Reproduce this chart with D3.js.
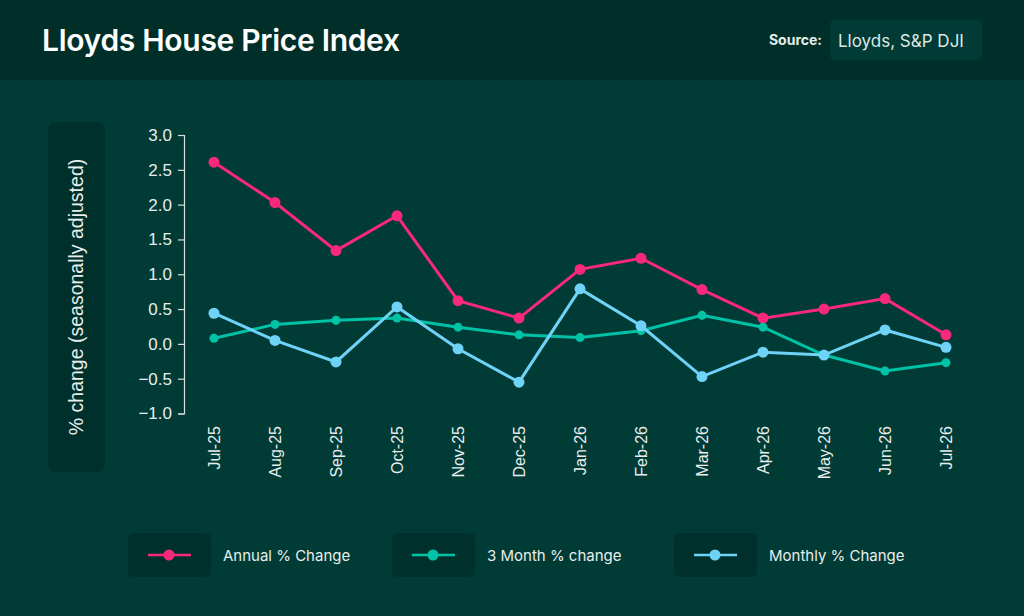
<!DOCTYPE html>
<html lang="en">
<head>
    <meta charset="UTF-8">
    <title>Lloyds House Price Index</title>
    <style>
        html, body { margin: 0; padding: 0; background: #003b36; }
        svg { display: block; }
    </style>
</head>
<body>
    <svg id="chart" width="1024" height="616"></svg>

    <script src="https://cdn.jsdelivr.net/npm/d3@7/dist/d3.min.js"></script>
    <script>
        // data
        var months = ["Jul-25", "Aug-25", "Sep-25", "Oct-25", "Nov-25", "Dec-25", "Jan-26",
            "Feb-26", "Mar-26", "Apr-26", "May-26", "Jun-26", "Jul-26"];
        var annualChange = [2.61, 2.03, 1.34, 1.84, 0.62, 0.37, 1.07, 1.23, 0.78, 0.37, 0.50, 0.65, 0.13];
        var threeMonthChange = [0.08, 0.28, 0.34, 0.37, 0.24, 0.13, 0.09, 0.19, 0.41, 0.24, -0.16, -0.39, -0.27];
        var monthlyChange = [0.44, 0.05, -0.26, 0.53, -0.07, -0.55, 0.79, 0.26, -0.47, -0.12, -0.16, 0.20, -0.05];
        var yTicks = [-1.0, -0.5, 0.0, 0.5, 1.0, 1.5, 2.0, 2.5, 3.0];

        var seriesNames = ["Annual % Change", "3 Month % change", "Monthly % Change"];
        var seriesColors = ["#f8287b", "#00c2a6", "#6fd3f7"];

        var series = [annualChange, threeMonthChange, monthlyChange].map(function (vals, i) {
            return { name: seriesNames[i], color: seriesColors[i], values: vals };
        });

        var svg = d3.select("#chart");

        // header band
        svg.append("rect")
            .attr("x", 0).attr("y", 0)
            .attr("width", 1024).attr("height", 80)
            .attr("fill", "#002f2a");

        svg.append("text")
            .attr("x", 42).attr("y", 51)
            .attr("fill", "#ffffff")
            .style("font-family", "Inter, 'Liberation Sans', sans-serif")
            .style("font-size", "30px")
            .style("font-weight", 600)
            .style("letter-spacing", "-0.3px")
            .text("Lloyds House Price Index");

        svg.append("text")
            .attr("x", 822).attr("y", 45)
            .attr("text-anchor", "end")
            .attr("fill", "#e8eeec")
            .style("font-family", "Inter, 'Liberation Sans', sans-serif")
            .style("font-size", "14px")
            .style("font-weight", 700)
            .text("Source:");

        svg.append("rect")
            .attr("x", 830).attr("y", 20)
            .attr("width", 152).attr("height", 40)
            .attr("rx", 5)
            .attr("fill", "#003b36");

        svg.append("text")
            .attr("x", 838).attr("y", 47)
            .attr("fill", "#dfe7e5")
            .style("font-family", "Inter, 'Liberation Sans', sans-serif")
            .style("font-size", "17px")
            .text("Lloyds, S&P DJI");

        // y label box
        svg.append("rect")
            .attr("x", 48).attr("y", 122)
            .attr("width", 57).attr("height", 350)
            .attr("rx", 8)
            .attr("fill", "#00302b");

        svg.append("text")
            .attr("transform", "translate(83,297) rotate(-90)")
            .attr("text-anchor", "middle")
            .attr("fill", "#e8eeec")
            .style("font-family", "'Liberation Sans', Arial, sans-serif")
            .style("font-size", "19.5px")
            .text("% change (seasonally adjusted)");

        // scales
        var x = d3.scalePoint()
            .domain(months)
            .range([214, 946]);

        var y = d3.scaleLinear()
            .domain([-1, 3])
            .range([413.5, 135]);

        var yAxis = svg.append("g")
            .attr("transform", "translate(184,0)")
            .call(d3.axisLeft(y).tickValues(yTicks).tickFormat(d3.format(".1f")).tickSize(6).tickPadding(6));

        yAxis.selectAll("path, line").attr("stroke", "#d9dfdd").attr("stroke-width", 1.2);
        yAxis.selectAll("text")
            .attr("fill", "#e8eeec")
            .style("font-family", "'Liberation Sans', Arial, sans-serif")
            .style("font-size", "17px");

        var xAxis = svg.append("g")
            .attr("transform", "translate(0,418)")
            .call(d3.axisBottom(x).tickSize(0).tickPadding(0));

        xAxis.select(".domain").remove();
        xAxis.selectAll("text")
            .attr("fill", "#e8eeec")
            .attr("transform", "rotate(-90)")
            .attr("text-anchor", "end")
            .attr("dy", "0.35em")
            .attr("x", -8)
            .attr("y", 0)
            .style("font-family", "'Liberation Sans', Arial, sans-serif")
            .style("font-size", "16px");

        // lines
        var line = d3.line()
            .x(function (d, i) { return x(months[i]); })
            .y(function (d) { return y(d); });

        var groups = svg.selectAll(".series")
            .data(series)
            .enter().append("g")
            .attr("class", "series");

        groups.append("path")
            .attr("d", function (d) { return line(d.values); })
            .attr("fill", "none")
            .attr("stroke", function (d) { return d.color; })
            .attr("stroke-width", 3);

        groups.each(function (s) {
            d3.select(this).selectAll("circle")
                .data(s.values)
                .enter().append("circle")
                .attr("cx", function (d, i) { return x(months[i]); })
                .attr("cy", function (d) { return y(d); })
                .attr("r", s.name === "3 Month % change" ? 4.5 : 5.5)
                .attr("fill", s.color);
        });

        // legend
        var legendX = [128, 392, 674];
        var legend = svg.selectAll(".legend")
            .data(series)
            .enter().append("g")
            .attr("class", "legend")
            .attr("transform", function (d, i) { return "translate(" + legendX[i] + ",533)"; });

        legend.append("rect")
            .attr("width", 83).attr("height", 44)
            .attr("rx", 5)
            .attr("fill", "#00302b");

        legend.append("line")
            .attr("x1", 20).attr("x2", 63)
            .attr("y1", 22).attr("y2", 22)
            .attr("stroke", function (d) { return d.color; })
            .attr("stroke-width", 2.5);

        legend.append("circle")
            .attr("cx", 41).attr("cy", 22)
            .attr("r", 5.5)
            .attr("fill", function (d) { return d.color; });

        legend.append("text")
            .attr("x", 95).attr("y", 28)
            .attr("fill", "#e8eeec")
            .style("font-family", "Inter, 'Liberation Sans', sans-serif")
            .style("font-size", "15px")
            .text(function (d) { return d.name; });
    </script>
</body>
</html>
